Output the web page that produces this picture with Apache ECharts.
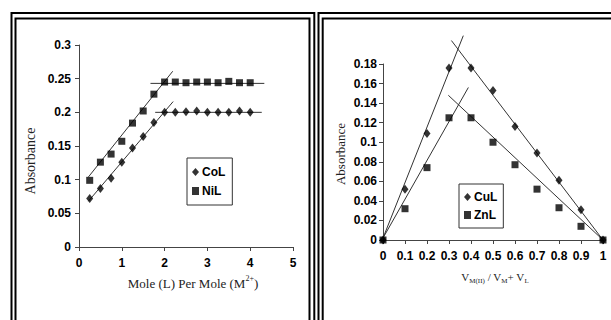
<!DOCTYPE html>
<html>
<head>
<meta charset="utf-8">
<script src="https://cdn.jsdelivr.net/npm/echarts@6/dist/echarts.min.js"></script>
<style>
  html, body { margin: 0; padding: 0; background: #fff; }
  #chart { width: 611px; height: 320px; }
</style>
</head>
<body>
<div id="chart"></div>
<script>
// left panel: mole ratio method
const moleRatio = [0.25, 0.5, 0.75, 1, 1.25, 1.5, 1.75, 2, 2.25, 2.5, 2.75, 3, 3.25, 3.5, 3.75, 4];
const colAbs = [0.072, 0.087, 0.102, 0.126, 0.147, 0.164, 0.185, 0.2, 0.2, 0.201, 0.202, 0.2, 0.2, 0.2, 0.202, 0.2];
const nilAbs = [0.099, 0.126, 0.138, 0.157, 0.184, 0.202, 0.227, 0.245, 0.245, 0.244, 0.245, 0.245, 0.244, 0.246, 0.244, 0.244];
const colRise = [[0.22, 0.068], [2.2, 0.216]];
const colFlat = [[1.78, 0.2], [4.27, 0.2]];
const nilRise = [[0.22, 0.104], [2.19, 0.261]];
const nilFlat = [[1.67, 0.243], [4.33, 0.243]];

// right panel: continuous variation (Job's method)
const fraction = [0, 0.1, 0.2, 0.3, 0.4, 0.5, 0.6, 0.7, 0.8, 0.9, 1];
const culAbs = [0, 0.052, 0.109, 0.176, 0.176, 0.153, 0.116, 0.089, 0.061, 0.031, 0];
const znlAbs = [0, 0.032, 0.074, 0.125, 0.125, 0.1, 0.077, 0.052, 0.033, 0.014, 0];
const culRise = [[0, 0.002], [0.365, 0.209]];
const culFall = [[0.311, 0.204], [1, 0]];
const znlRise = [[0, 0.002], [0.388, 0.156]];
const znlFall = [[0.297, 0.148], [1, 0]];

const axisColor = '#444';
const tickFont = { color: '#000', fontSize: 12, fontWeight: 'bold',
                   fontFamily: '"Liberation Sans Narrow", "Arial Narrow", "Liberation Sans"' };
const serif = 'Liberation Serif';

const zip = (xs, ys) => xs.map((x, i) => [x, ys[i]]);

function axisBase(extra) {
    return Object.assign({
        type: 'value',
        axisLine: { show: true, lineStyle: { color: axisColor, width: 1 } },
        axisTick: { show: true, length: 4, lineStyle: { color: axisColor } },
        splitLine: { show: false },
        axisLabel: Object.assign({}, tickFont)
    }, extra);
}

function points(name, data, symbol, size, xi) {
    return {
        name: name, type: 'scatter', data: data,
        xAxisIndex: xi, yAxisIndex: xi,
        symbol: symbol, symbolSize: size,
        itemStyle: { color: '#000' }, z: 5
    };
}

function fit(data, xi) {
    return {
        type: 'line', data: data, xAxisIndex: xi, yAxisIndex: xi,
        showSymbol: false, symbol: 'none', clip: false, silent: true,
        lineStyle: { color: '#333', width: 1 }
    };
}

function frame(x, y, w, h) {
    return { type: 'rect', shape: { x: x, y: y, width: w, height: h },
             style: { fill: 'none', stroke: '#000', lineWidth: 2 } };
}

const chart = echarts.init(document.getElementById('chart'), null, { renderer: 'svg' });

chart.setOption({
    backgroundColor: '#fff',
    animation: false,
    grid: [
        { left: 79, top: 45, width: 214, height: 202 },
        { left: 383, top: 64, width: 220, height: 176 }
    ],
    xAxis: [
        axisBase({ gridIndex: 0, min: 0, max: 5, interval: 1,
                   axisLabel: Object.assign({ margin: 10 }, tickFont) }),
        axisBase({ gridIndex: 1, min: 0, max: 1, interval: 0.1,
                   axisLabel: Object.assign({ margin: 10 }, tickFont) })
    ],
    yAxis: [
        axisBase({ gridIndex: 0, min: 0, max: 0.3, interval: 0.05,
                   axisLabel: Object.assign({ margin: 8 }, tickFont) }),
        axisBase({ gridIndex: 1, min: 0, max: 0.18, interval: 0.02,
                   axisLabel: Object.assign({ margin: 6 }, tickFont) })
    ],
    legend: [
        {
            data: [{ name: 'CoL', icon: 'diamond' }, { name: 'NiL', icon: 'rect' }],
            orient: 'vertical', left: 187, top: 158,
            padding: [8, 7, 8, 5], itemGap: 7, itemWidth: 7, itemHeight: 8,
            borderColor: '#333', borderWidth: 1,
            textStyle: Object.assign({}, tickFont, { padding: [0, 0, 0, -2] })
        },
        {
            data: [{ name: 'CuL', icon: 'diamond' }, { name: 'ZnL', icon: 'rect' }],
            orient: 'vertical', left: 459, top: 184,
            padding: [7, 6, 7, 5], itemGap: 6, itemWidth: 7, itemHeight: 8,
            borderColor: '#333', borderWidth: 1,
            textStyle: Object.assign({}, tickFont, { padding: [0, 0, 0, -2] })
        }
    ],
    series: [
        fit(colRise, 0), fit(colFlat, 0), fit(nilRise, 0), fit(nilFlat, 0),
        points('CoL', zip(moleRatio, colAbs), 'diamond', [7, 9], 0),
        points('NiL', zip(moleRatio, nilAbs), 'rect', 7, 0),
        fit(culRise, 1), fit(culFall, 1), fit(znlRise, 1), fit(znlFall, 1),
        points('CuL', zip(fraction, culAbs), 'diamond', [7, 9], 1),
        points('ZnL', zip(fraction, znlAbs), 'rect', 7, 1)
    ],
    graphic: [
        frame(11.5, 13, 302.8, 330),
        frame(15.5, 18.5, 294, 330),
        frame(318.5, 13, 330, 330),
        frame(322.7, 18.5, 330, 330),
        {
            type: 'text', x: 30, y: 161, rotation: Math.PI / 2,
            style: { text: 'Absorbance', font: '14px "Liberation Serif"', fill: '#222',
                     align: 'center', verticalAlign: 'middle' }
        },
        {
            type: 'text', x: 340, y: 154, rotation: Math.PI / 2,
            style: { text: 'Absorbance', font: '13px "Liberation Serif"', fill: '#222',
                     align: 'center', verticalAlign: 'middle' }
        },
        {
            type: 'text', x: 193, y: 283,
            style: {
                text: 'Mole (L) Per Mole (M{sup|2+})',
                fontFamily: serif, fontSize: 13, fill: '#222', lineHeight: 18,
                align: 'center', verticalAlign: 'middle',
                rich: { sup: { fontFamily: serif, fontSize: 8, verticalAlign: 'top', fill: '#222' } }
            }
        },
        {
            type: 'text', x: 495, y: 277,
            style: {
                text: 'V{sub|M(II)} / V{sub|M}+ V{sub|L}',
                fontFamily: serif, fontSize: 11, fill: '#222', lineHeight: 14,
                align: 'center', verticalAlign: 'middle',
                rich: { sub: { fontFamily: serif, fontSize: 7, verticalAlign: 'bottom', fill: '#222' } }
            }
        }
    ]
});
</script>
</body>
</html>
